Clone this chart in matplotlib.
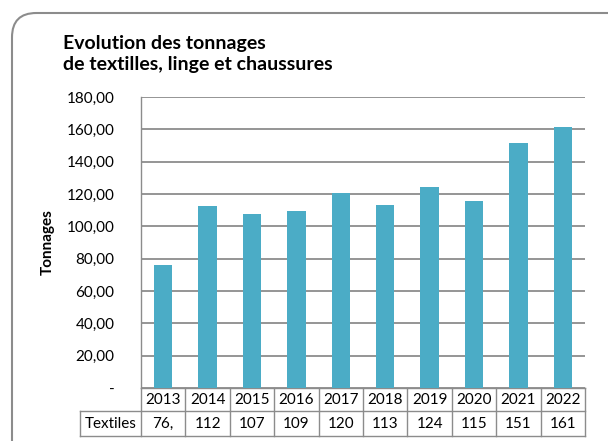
import matplotlib.pyplot as plt
from matplotlib.patches import FancyBboxPatch

years = ["2013", "2014", "2015", "2016", "2017", "2018", "2019", "2020", "2021", "2022"]
tonnages = [76.2, 112.4, 107.8, 109.3, 120.8, 113.3, 124.5, 115.7, 151.3, 161.4]
table_labels = ["76,", "112", "107", "109", "120", "113", "124", "115", "151", "161"]
yticks = [0, 20, 40, 60, 80, 100, 120, 140, 160, 180]
ytick_labels = ["-", "20,00", "40,00", "60,00", "80,00", "100,00", "120,00", "140,00", "160,00", "180,00"]

plt.rcParams["font.family"] = ["Lato", "DejaVu Sans"]

W, H = 608, 441
fig = plt.figure(figsize=(W / 100, H / 100), dpi=100)

# rounded chart frame, cut by the right and bottom edges
frame = FancyBboxPatch((12 / W, -40 / H), 640 / W, (441 - 13 + 40) / H,
                       boxstyle="round,pad=0,rounding_size=0.04",
                       transform=fig.transFigure, facecolor="none",
                       edgecolor="#8c8c8c", linewidth=1.5, mutation_aspect=W / H)
fig.patches.append(frame)

left, right, top, bottom = 141, 585, 97, 388
ax = fig.add_axes([left / W, (H - bottom) / H, (right - left) / W, (bottom - top) / H])
ax.set_facecolor("none")

x = list(range(len(years)))
ax.bar(x, tonnages, width=0.41, color="#4BACC6", zorder=3)
ax.set_xlim(-0.5, len(years) - 0.5)
ax.set_ylim(0, 180)
ax.set_yticks(yticks)
ax.set_yticklabels(ytick_labels, fontsize=11)
ax.set_xticks([])
ax.grid(axis="y", color="#8c8c8c", linewidth=1.3, zorder=0)
for s in ["top", "right", "bottom"]:
    ax.spines[s].set_visible(False)
ax.spines["left"].set_color("#8c8c8c")
ax.spines["left"].set_linewidth(1.0)
ax.set_ylabel("Tonnages", fontsize=11, fontweight="bold")
ax.yaxis.set_label_coords((55 - left) / (right - left), 0.5)

# data table under the axis
tr = ax.get_xaxis_transform()
h = bottom - top
r1 = -23 / h
r2 = -48 / h
xl = -0.5 - (left - 80) / ((right - left) / len(years))
lc = "#8c8c8c"
kw = dict(transform=tr, clip_on=False, color=lc, linewidth=1.0)
ax.plot([-0.5, len(years) - 0.5], [0, 0], **kw)
ax.plot([xl, len(years) - 0.5], [r1, r1], **kw)
ax.plot([xl, len(years) - 0.5], [r2, r2], **kw)
ax.plot([xl, xl], [r1, r2], **kw)
for i in range(len(years) + 1):
    ax.plot([i - 0.5, i - 0.5], [0, r2], **kw)
for i, (yr, lab) in enumerate(zip(years, table_labels)):
    ax.text(i, r1 / 2, yr, transform=tr, ha="center", va="center", fontsize=11)
    ax.text(i, (r1 + r2) / 2, lab, transform=tr, ha="center", va="center", fontsize=11)
ax.text((xl - 0.5) / 2, (r1 + r2) / 2, "Textiles", transform=tr, ha="center",
        va="center", fontsize=11)

fig.text(63 / W, 1 - 35 / H, "Evolution des tonnages\nde textilles, linge et chaussures",
         ha="left", va="top", fontsize=14, fontweight="bold", linespacing=1.3)

ax.tick_params(axis="y", length=0, pad=19)

fig.savefig("out.png", dpi=100)
